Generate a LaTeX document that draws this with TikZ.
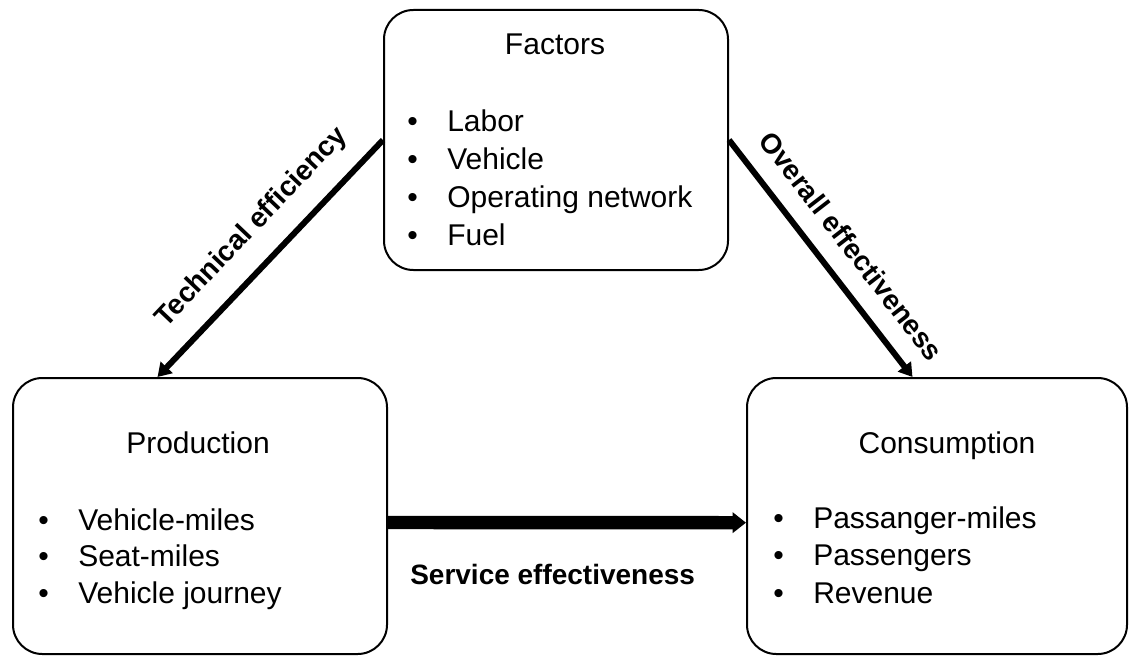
\documentclass[tikz,border=0pt]{standalone}
\usepackage{fontspec}
\setmainfont{Liberation Sans}
\usetikzlibrary{arrows.meta}

\newcommand{\blt}{\makebox[30pt][l]{\textbullet}}

\begin{document}
\begin{tikzpicture}[%
    x=0.75pt,
    y=-0.75pt,
    box/.style={%
      rectangle,
      rounded corners=22pt,
      line width=1.5pt,
      draw
    },
    heading/.style={%
      anchor=base,
      inner sep=0pt,
      font=\fontsize{22.5pt}{27pt}\selectfont
    },
    entry/.style={%
      anchor=base west,
      inner sep=0pt,
      font=\fontsize{22.5pt}{27pt}\selectfont
    },
    flow/.style={%
      draw,
      line width=4.5pt,
      -{Triangle[length=10pt,width=12pt]}
    },
    tag/.style={%
      font=\bfseries\fontsize{21pt}{25pt}\selectfont,
      inner sep=0pt
    }
  ]
    \useasboundingbox (0,0) rectangle (1130,656);

    % the three blocks
    \node[box, minimum width=258pt, minimum height=195pt] (fact) at (556,140) {};
    \node[box, minimum width=280.5pt, minimum height=207pt] (prod) at (200,516) {};
    \node[box, minimum width=285pt, minimum height=207pt] (cons) at (937,516) {};

    \node[heading] (facthead) at (555,55) {Factors};
    \node[heading] (prodhead) at (198,453) {Production};
    \node[heading] (conshead) at (947,453) {Consumption};

    \foreach \t [count=\i] in {Labor,Vehicle,Operating network,Fuel}
      \node[entry] (fact\i) at (407,{132+37.7*(\i-1)}) {\blt\t};
    \foreach \t [count=\i] in {Vehicle-miles,Seat-miles,Vehicle journey}
      \node[entry] (prod\i) at (38,{530+36.7*(\i-1)}) {\blt\t};
    \foreach \t [count=\i] in {Passanger-miles,Passengers,Revenue}
      \node[entry] (cons\i) at (773,{528+37.5*(\i-1)}) {\blt\t};

    % links
    \draw[flow] (fact.west) -- node[tag, sloped, above=14pt, pos=0.47] (techtag) {Technical efficiency} (prod.107);
    \draw[flow] (fact.east) -- node[tag, sloped, above=14pt, pos=0.53] (overtag) {Overall effectiveness} (cons.100);
    \draw[flow, line width=10pt, -{Triangle[length=10pt,width=15pt]}] (prod.-2) -- node[tag, below=26pt, pos=0.46] (servtag) {Service effectiveness} (cons.182);
\end{tikzpicture}
\end{document}
